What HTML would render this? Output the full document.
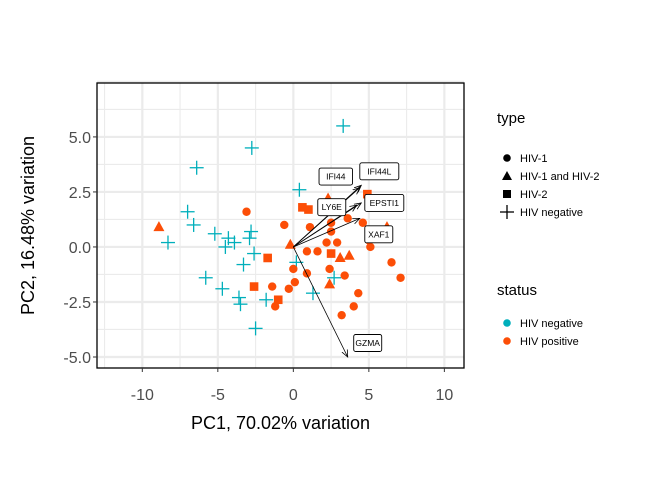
<!DOCTYPE html>
<html><head><meta charset="utf-8"><style>
body{margin:0;background:#fff;font-family:"Liberation Sans",sans-serif}
svg text{font-family:"Liberation Sans",sans-serif}
</style></head><body>
<svg id="c" width="672" height="480"></svg>
<script>
const negX=[-2.75,-6.4,-7.0,-6.6,-5.2,-2.8,-2.9,-4.3,-3.9,-4.5,-8.3,-2.6,-3.3,-5.8,-4.7,-3.6,-3.5,-1.8,-2.5,3.3,0.4,0.2,2.7,1.3];
const negY=[4.5,3.6,1.6,1.0,0.6,0.7,0.4,0.4,0.2,0.0,0.2,-0.3,-0.8,-1.4,-1.9,-2.3,-2.6,-2.4,-3.7,5.5,2.6,-0.7,-1.4,-2.1];
const triX=[-8.9,-0.2,2.3,6.2,3.1,3.7,2.4];
const triY=[0.9,0.1,2.2,0.9,-0.5,-0.4,-1.7];
const sqX=[-1.7,-2.6,-1.0,0.6,1.0,4.9,2.5];
const sqY=[-0.5,-1.8,-2.4,1.8,1.7,2.4,-0.3];
const circX=[-3.1,-0.6,-1.4,-0.3,-1.2,0,0.1,2.0,1.1,2.5,3.6,4.6,5.0,2.5,2.2,2.9,0.9,1.6,5.1,6.5,7.1,0.9,2.4,3.4,4.3,4.0,3.2];
const circY=[1.6,1.0,-1.8,-1.9,-2.7,-1.0,-1.6,3.0,0.9,1.1,1.3,1.1,0.3,0.7,0.2,0.2,-0.2,-0.2,0,-0.7,-1.4,-1.2,-1.0,-1.3,-2.1,-2.7,-3.1];
const genes=["IFI44L","IFI44","EPSTI1","LY6E","XAF1","GZMA"];
const loadX=[4.5,4.4,4.5,4.2,4.4,3.6];
const loadY=[2.8,2.7,2.0,1.9,1.3,-5.0];
const xTicks=[-10,-5,0,5,10];
const yTicks=[5.0,2.5,0.0,-2.5,-5.0];
const X0=97,X1=464,Y0=83,Y1=368,xmin=-13.0,xmax=11.3,ymin=-5.5,ymax=7.45;
const sx=v=>X0+(v-xmin)/(xmax-xmin)*(X1-X0);
const sy=v=>Y1-(v-ymin)/(ymax-ymin)*(Y1-Y0);
const svg=document.getElementById('c');const NS='http://www.w3.org/2000/svg';
function mk(t,a,p){const e=document.createElementNS(NS,t);for(const k in a)e.setAttribute(k,a[k]);(p||svg).appendChild(e);return e;}
const OR='#FC4E07',TE='#00AFBB';
let e=mk('rect',{x:X0,y:Y0,width:X1-X0,height:Y1-Y0,fill:'#fff'});


for(let v=-12.5;v<=11;v+=2.5){const maj=v%5===0;mk('line',{x1:sx(v),x2:sx(v),y1:Y0,y2:Y1,stroke:'#ebebeb','stroke-width':maj?2.2:1.1});}
for(let v=-5;v<=7.5;v+=1.25){const maj=Math.abs(v%2.5)<1e-9;mk('line',{y1:sy(v),y2:sy(v),x1:X0,x2:X1,stroke:'#ebebeb','stroke-width':maj?2.2:1.1});}
function plus(x,y,c){const g=mk('g',{stroke:c,'stroke-width':1.3});mk('line',{x1:x-7,x2:x+7,y1:y,y2:y},g);mk('line',{x1:x,x2:x,y1:y-7,y2:y+7},g);return g;}
for(let i=0;i<negX.length;i++){e=plus(sx(negX[i]),sy(negY[i]),TE);

}
for(let i=0;i<circX.length;i++){e=mk('circle',{cx:sx(circX[i]),cy:sy(circY[i]),r:4.2,fill:OR});

}
for(let i=0;i<sqX.length;i++){const x=sx(sqX[i]),y=sy(sqY[i]);e=mk('rect',{x:x-4.3,y:y-4.3,width:8.6,height:8.6,fill:OR});

}
for(let i=0;i<triX.length;i++){const x=sx(triX[i]),y=sy(triY[i]);e=mk('polygon',{points:`${x},${y-6} ${x-5.5},${y+4} ${x+5.5},${y+4}`,fill:OR});

}
mk('defs',{}).innerHTML='<marker id="ah" markerWidth="8" markerHeight="8" refX="7" refY="4" orient="auto" markerUnits="userSpaceOnUse"><path d="M0,1 L7,4 L0,7" fill="none" stroke="#000" stroke-width="0.8"/></marker>';
const labOff=[[18,-14],[-24,-11],[23,0],[-25,2],[19,16],[20,-14]];
for(let i=0;i<genes.length;i++){e=mk('line',{x1:sx(0),y1:sy(0),x2:sx(loadX[i]),y2:sy(loadY[i]),stroke:'#000','stroke-width':0.8,'marker-end':'url(#ah)'});

}
for(let i=0;i<genes.length;i++){const cx=sx(loadX[i])+labOff[i][0],cy=sy(loadY[i])+labOff[i][1];const w=genes[i].length*5.5+6;
e=mk('g',{});

mk('rect',{x:cx-w/2,y:cy-8.5,width:w,height:17,rx:2,fill:'#fff',stroke:'#000','stroke-width':0.9},e);
const t=mk('text',{x:cx,y:cy+3,'font-size':8.5,'text-anchor':'middle',fill:'#000'},e);t.textContent=genes[i];}
mk('rect',{x:X0,y:Y0,width:X1-X0,height:Y1-Y0,fill:'none',stroke:'#000','stroke-width':1.3});
for(const v of xTicks){mk('line',{x1:sx(v),x2:sx(v),y1:Y1,y2:Y1+4,stroke:'#333','stroke-width':1});
e=mk('text',{x:sx(v),y:Y1+32,'font-size':16,'text-anchor':'middle',fill:'#4d4d4d'});e.textContent=v;

}
for(const v of yTicks){mk('line',{x1:X0-4,x2:X0,y1:sy(v),y2:sy(v),stroke:'#333','stroke-width':1});
e=mk('text',{x:X0-6,y:sy(v)+6,'font-size':16,'text-anchor':'end',fill:'#4d4d4d'});e.textContent=v.toFixed(1);

}
e=mk('text',{x:(X0+X1)/2,y:429,'font-size':18,'text-anchor':'middle',fill:'#000'});e.textContent='PC1, 70.02% variation';


e=mk('text',{x:0,y:0,'font-size':18,'text-anchor':'middle',fill:'#000',transform:`translate(34,${(Y0+Y1)/2}) rotate(-90)`});e.textContent='PC2, 16.48% variation';


e=mk('text',{x:497,y:123,'font-size':15,fill:'#000'});e.textContent='type';


const typeLab=['HIV-1','HIV-1 and HIV-2','HIV-2','HIV negative'];
const ty=[158,176,194,212];
for(let i=0;i<4;i++){const x=507,y=ty[i];let m;
if(i===0)m=mk('circle',{cx:x,cy:y,r:3.8,fill:'#000'});
else if(i===1)m=mk('polygon',{points:`${x},${y-5} ${x-5},${y+4} ${x+5},${y+4}`,fill:'#000'});
else if(i===2)m=mk('rect',{x:x-4,y:y-4,width:8,height:8,fill:'#000'});
else m=plus(x,y,'#000');
e=mk('text',{x:520,y:y+4,'font-size':11,fill:'#000'});e.textContent=typeLab[i];

}
e=mk('text',{x:497,y:295,'font-size':15,fill:'#000'});e.textContent='status';


const stLab=['HIV negative','HIV positive'],stCol=[TE,OR],sty=[323,341];
for(let i=0;i<2;i++){mk('circle',{cx:507,cy:sty[i],r:3.8,fill:stCol[i]});
e=mk('text',{x:520,y:sty[i]+4,'font-size':11,fill:'#000'});e.textContent=stLab[i];

}
</script>
</body></html>
